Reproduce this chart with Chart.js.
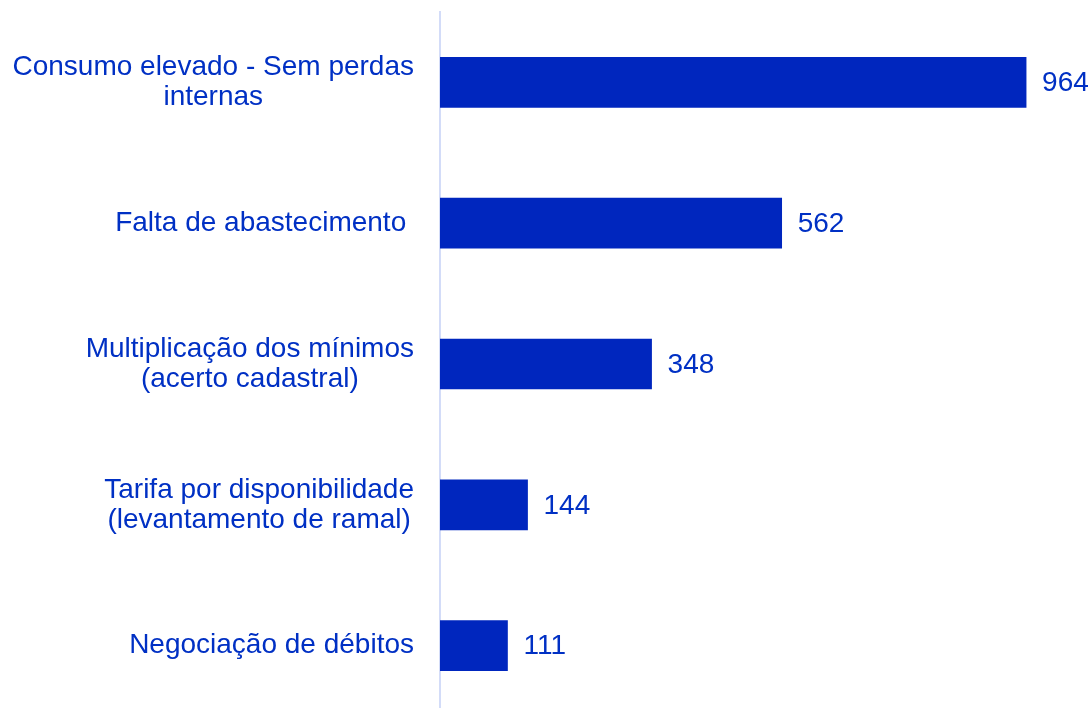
<!DOCTYPE html>
<html>
<head>
<meta charset="utf-8">
<script src="https://cdn.jsdelivr.net/npm/chart.js@4/dist/chart.umd.min.js"></script>
<style>
  html, body { margin: 0; padding: 0; background: #fff; overflow: hidden; }
  #wrap { width: 1091px; height: 716px; position: relative; }
</style>
</head>
<body>
<div id="wrap"><canvas id="barChart"></canvas></div>
<script>
const categories = [
  ['Consumo elevado - Sem perdas', 'internas'],
  ['Falta de abastecimento '],
  ['Multiplicação dos mínimos', '(acerto cadastral)'],
  ['Tarifa por disponibilidade', '(levantamento de ramal)'],
  ['Negociação de débitos'],
];
const values = [964, 562, 348, 144, 111];

const BLUE = '#0026BE';
const TEXT = '#0030C4';
const FONT = '28px "Liberation Sans", Arial, sans-serif';

// draws the category labels (each block centred on itself) and the value labels
const labelPlugin = {
  id: 'labels',
  afterDatasetsDraw(chart) {
    const { ctx, chartArea } = chart;
    const yScale = chart.scales.y;
    const meta = chart.getDatasetMeta(0);
    ctx.save();
    ctx.font = FONT;
    ctx.fillStyle = TEXT;
    ctx.textBaseline = 'middle';
    ctx.textAlign = 'center';
    const lineH = 30;
    categories.forEach((lines, i) => {
      const y = yScale.getPixelForTick(i);
      const widest = Math.max(...lines.map((l) => ctx.measureText(l).width));
      const cx = chartArea.left - 26 - widest / 2;
      const top = y - ((lines.length - 1) * lineH) / 2;
      lines.forEach((l, j) => ctx.fillText(l, cx, top + j * lineH));
    });
    ctx.textAlign = 'left';
    meta.data.forEach((bar, i) => {
      ctx.fillText(String(values[i]), bar.x + 16, bar.y + 1);
    });
    ctx.restore();
  },
};

const ctx = document.getElementById('barChart').getContext('2d');
new Chart(ctx, {
  type: 'bar',
  data: {
    labels: categories,
    datasets: [{
      data: values,
      backgroundColor: BLUE,
      borderWidth: 0,
      barThickness: 50,
    }],
  },
  options: {
    indexAxis: 'y',
    responsive: true,
    maintainAspectRatio: false,
    animation: false,
    layout: { padding: { left: 440, top: 12, right: 43, bottom: 0 } },
    plugins: {
      legend: { display: false },
      tooltip: { enabled: false },
    },
    scales: {
      x: {
        min: 0,
        max: 1000,
        display: false,
      },
      y: {
        afterFit: (scale) => { scale.width = 0; },
        grid: { display: false },
        ticks: { display: false },
        border: { display: true, color: '#D3DCF8', width: 2 },
      },
    },
  },
  plugins: [labelPlugin],
});
</script>
</body>
</html>
